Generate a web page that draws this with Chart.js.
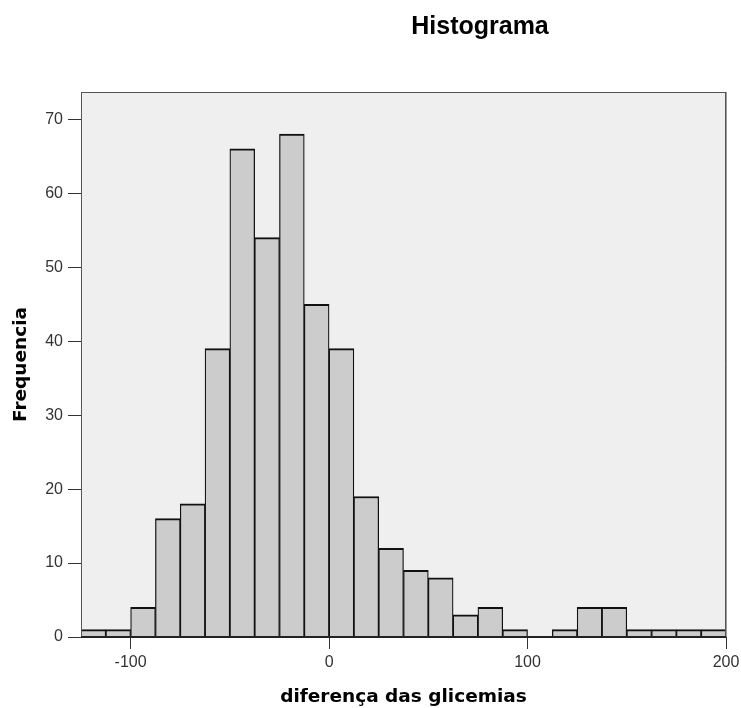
<!DOCTYPE html>
<html><head><meta charset="utf-8">
<script src="https://cdn.jsdelivr.net/npm/chart.js@4.4.1/dist/chart.umd.min.js"></script>
<style>html,body{margin:0;padding:0;background:#fff}</style>
</head><body>
<canvas id="c" width="741" height="708" style="display:block;width:741px;height:708px"></canvas>
<script>
const chartTitle = 'Histograma';
const xAxisTitle = 'diferença das glicemias';
const yAxisTitle = 'Frequencia';
const binCenters = [-118.75, -106.25, -93.75, -81.25, -68.75, -56.25, -43.75, -31.25, -18.75, -6.25,
  6.25, 18.75, 31.25, 43.75, 56.25, 68.75, 81.25, 93.75, 106.25, 118.75,
  131.25, 143.75, 156.25, 168.75, 181.25, 193.75];
const frequencies = [1, 1, 4, 16, 18, 39, 66, 54, 68, 45,
  39, 19, 12, 9, 8, 3, 4, 1, 0, 1,
  4, 4, 1, 1, 1, 1];
const xTickValues = [-100, 0, 100, 200];
const yTickValues = [0, 10, 20, 30, 40, 50, 60, 70];
const xRange = [-125, 200];
const yRange = [0, 73.7];

const points = binCenters.map((c, i) => ({ x: c, y: frequencies[i] }));

const framePlugin = {
  id: 'frame',
  beforeDraw(chart) {
    const { ctx, chartArea: a } = chart;
    ctx.save();
    ctx.fillStyle = '#efefef';
    ctx.fillRect(a.left, a.top, a.right - a.left, a.bottom - a.top);
    ctx.restore();
  },
  afterDatasetsDraw(chart) {
    const { ctx, chartArea: a } = chart;
    ctx.save();
    ctx.strokeStyle = '#555';
    ctx.lineWidth = 1;
    ctx.strokeRect(Math.round(a.left) + 0.5, Math.round(a.top) + 0.5,
      Math.round(a.right - a.left) - 1, Math.round(a.bottom - a.top) - 1);
    ctx.strokeStyle = '#9a9a9a';
    ctx.beginPath();
    ctx.moveTo(Math.round(a.right) + 0.5, a.top);
    ctx.lineTo(Math.round(a.right) + 0.5, a.bottom);
    ctx.stroke();
    ctx.strokeStyle = '#222';
    ctx.lineWidth = 2;
    ctx.beginPath();
    ctx.moveTo(a.left, Math.round(a.bottom));
    ctx.lineTo(a.right, Math.round(a.bottom));
    ctx.stroke();
    ctx.restore();
  },
  afterDraw(chart) {
    const { ctx } = chart;
    ctx.save();
    ctx.fillStyle = '#000';
    ctx.font = 'bold 25px "Liberation Sans", Arial, sans-serif';
    ctx.textAlign = 'center';
    ctx.textBaseline = 'alphabetic';
    ctx.fillText(chartTitle, 480, 34);
    ctx.restore();
  }
};

new Chart(document.getElementById('c'), {
  type: 'bar',
  data: {
    datasets: [{
      data: points,
      backgroundColor: '#cccccc',
      borderColor: '#111',
      borderWidth: { top: 2, left: 1.25, right: 1.25, bottom: 0 },
      borderSkipped: false,
      barPercentage: 1,
      categoryPercentage: 1
    }]
  },
  options: {
    responsive: false,
    animation: false,
    devicePixelRatio: 1,
    layout: { padding: { top: 92, right: 15, left: 0, bottom: 0 } },
    plugins: { legend: { display: false }, tooltip: { enabled: false }, title: { display: false } },
    scales: {
      x: {
        type: 'linear',
        offset: false,
        min: xRange[0], max: xRange[1],
        afterBuildTicks: s => { s.ticks = xTickValues.map(v => ({ value: v })); },
        afterFit: s => { s.height = 71; s.paddingRight = 0; s.paddingLeft = 0; },
        grid: { display: true, drawOnChartArea: false, drawTicks: true, tickLength: 12, color: '#333', lineWidth: 1, offset: false },
        border: { display: false },
        ticks: { padding: 4, color: '#333', font: { family: '"Liberation Sans", Arial, sans-serif', size: 16 }, callback: v => String(v), maxRotation: 0, autoSkip: false },
        title: { display: true, text: xAxisTitle, color: '#000', font: { family: '"DejaVu Sans", sans-serif', size: 18.5, weight: 'bold' }, padding: { top: 0, bottom: 0 } }
      },
      y: {
        type: 'linear',
        min: yRange[0], max: yRange[1],
        afterBuildTicks: s => { s.ticks = yTickValues.map(v => ({ value: v })); },
        afterFit: s => { s.width = 81; s.paddingTop = 0; s.paddingBottom = 0; },
        grid: { display: true, drawOnChartArea: false, drawTicks: true, tickLength: 13, color: '#333', lineWidth: 1 },
        border: { display: false },
        ticks: { padding: 5, color: '#333', font: { family: '"Liberation Sans", Arial, sans-serif', size: 16 }, callback: v => String(v), autoSkip: false },
        title: { display: true, text: yAxisTitle, color: '#000', font: { family: '"DejaVu Sans", sans-serif', size: 18.5, weight: 'bold' }, padding: { top: 10, bottom: 0 } }
      }
    }
  },
  plugins: [framePlugin]
});
</script>
</body></html>
